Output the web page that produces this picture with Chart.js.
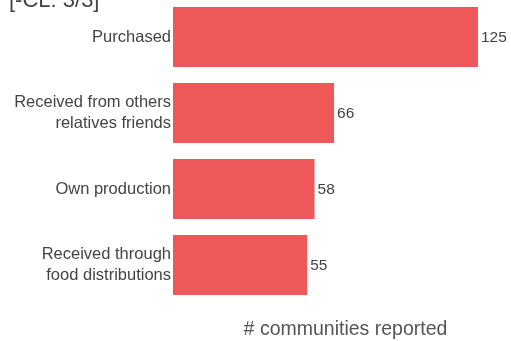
<!DOCTYPE html>
<html>
<head>
<meta charset="utf-8">
<script src="https://cdn.jsdelivr.net/npm/chart.js@4/dist/chart.umd.min.js"></script>
<style>
  html, body { margin: 0; padding: 0; background: #fff; overflow: hidden; width: 511px; height: 341px; }
  #wrap { position: relative; width: 511px; height: 341px; overflow: hidden; }
  #titulo { position: absolute; left: 9px; top: -11px; font: 22px "Liberation Sans", Arial, sans-serif; line-height: 22px; color: #444; white-space: nowrap; }
  #box { position: absolute; left: 0; top: -1px; width: 518px; height: 342px; }
</style>
</head>
<body>
<div id="wrap">
  <div id="box"><canvas id="barras"></canvas></div>
  <div id="titulo">[-CL: 3/3]</div>
</div>
<script>
const categorias = ['Purchased', ['Received from others', 'relatives friends'], 'Own production', ['Received through', 'food distributions']];
const valores = [125, 66, 58, 55];
const corBarra = '#ee5859';
const corTexto = '#444';

// escreve o valor no fim de cada barra
const rotulosValor = {
  id: 'rotulosValor',
  afterDatasetsDraw(chart) {
    const ctx = chart.ctx;
    const meta = chart.getDatasetMeta(0);
    ctx.save();
    ctx.font = '15.5px "Liberation Sans", Arial, sans-serif';
    ctx.fillStyle = corTexto;
    ctx.textAlign = 'left';
    ctx.textBaseline = 'middle';
    meta.data.forEach((barra, i) => {
      ctx.fillText(String(valores[i]), barra.x + 3, barra.y + 1);
    });
    ctx.restore();
  }
};

const ctxBar = document.getElementById('barras').getContext('2d');
let grafico = new Chart(ctxBar, {
  type: 'bar',
  data: {
    labels: categorias,
    datasets: [{
      data: valores,
      backgroundColor: corBarra,
      borderWidth: 0,
      barPercentage: 0.792,
      categoryPercentage: 1
    }]
  },
  options: {
    indexAxis: 'y',
    responsive: true,
    maintainAspectRatio: false,
    animation: false,
    layout: { padding: 0 },
    plugins: {
      legend: { display: false },
      tooltip: { enabled: false }
    },
    scales: {
      x: {
        min: 0,
        max: 141.4,
        grid: { display: false },
        border: { display: false },
        ticks: { display: false },
        title: {
          display: true,
          text: '# communities reported',
          color: '#555',
          font: { family: '"Liberation Sans", Arial, sans-serif', size: 19.5 },
          padding: { top: 15, bottom: 0 }
        },
        afterFit(scale) {
          scale.height = 38;
          scale.paddingLeft = 0;
          scale.paddingRight = 0;
        }
      },
      y: {
        grid: { display: false, drawTicks: false },
        border: { display: false },
        ticks: {
          color: corTexto,
          padding: 2,
          font: { family: '"Liberation Sans", Arial, sans-serif', size: 16.5, lineHeight: 1.22 }
        },
        afterFit(scale) {
          scale.width = 173;
          scale.paddingTop = 0;
          scale.paddingBottom = 0;
        }
      }
    }
  },
  plugins: [rotulosValor]
});
</script>
</body>
</html>
